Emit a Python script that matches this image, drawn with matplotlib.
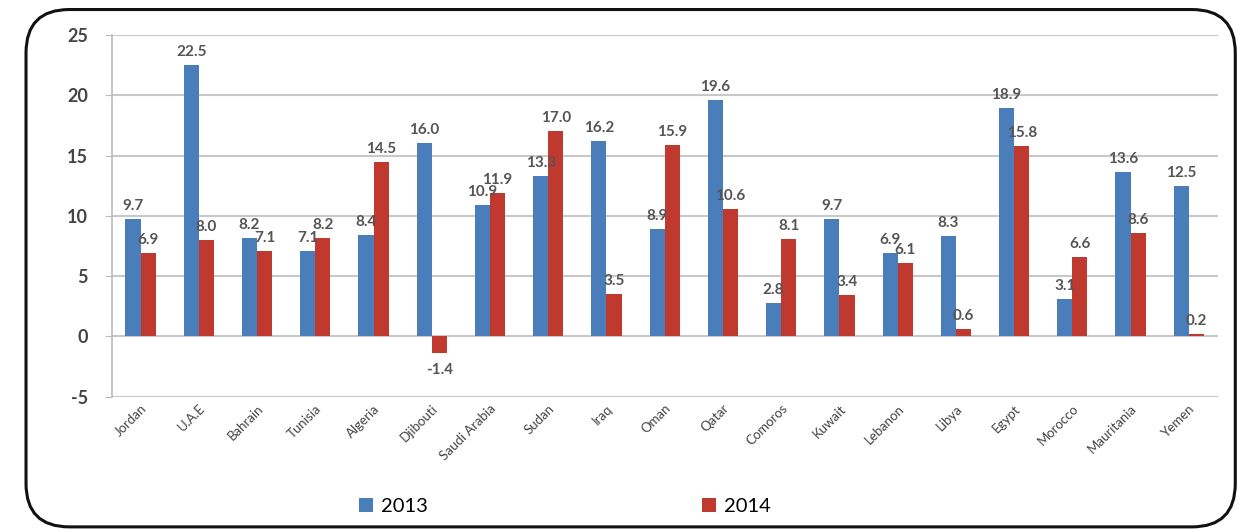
import matplotlib.pyplot as plt
import numpy as np
from matplotlib.patches import FancyBboxPatch

# data
countries = ["Jordan", "U.A.E", "Bahrain", "Tunisia", "Algeria", "Djibouti",
             "Saudi Arabia", "Sudan", "Iraq", "Oman", "Qatar", "Comoros",
             "Kuwait", "Lebanon", "Libya", "Egypt", "Morocco", "Mauritania", "Yemen"]
vals_2013 = [9.7, 22.5, 8.2, 7.1, 8.4, 16.0, 10.9, 13.3, 16.2, 8.9, 19.6, 2.8,
             9.7, 6.9, 8.3, 18.9, 3.1, 13.6, 12.5]
vals_2014 = [6.9, 8.0, 7.1, 8.2, 14.5, -1.4, 11.9, 17.0, 3.5, 15.9, 10.6, 8.1,
             3.4, 6.1, 0.6, 15.8, 6.6, 8.6, 0.2]
y_ticks = [-5, 0, 5, 10, 15, 20, 25]

plt.rcParams['font.family'] = ['Lato', 'DejaVu Sans']

fig = plt.figure(figsize=(12.39, 5.29), dpi=100)

#rounded frame around everything
frame = FancyBboxPatch((0.021, 0.004), 0.976, 0.978,
                       boxstyle="round,pad=0,rounding_size=0.035",
                       transform=fig.transFigure, fill=False,
                       edgecolor="#111111", linewidth=2.2,
                       mutation_aspect=1239/529)
fig.patches.append(frame)

ax = fig.add_axes([0.090, 0.250, 0.893, 0.684])

x = np.arange(len(countries))
w = 0.26
b1 = ax.bar(x - w / 2, vals_2013, w, color="#4A7EBB", label="2013", zorder=3)
b2 = ax.bar(x + w / 2, vals_2014, w, color="#C0392F", label="2014", zorder=3)

for xi, v in zip(x, vals_2013):
    ax.text(xi - w / 2, v + 0.5, f"{v:.1f}", ha="center", va="bottom",
            fontsize=11, fontweight="bold", color="#555555", zorder=4)
for xi, v in zip(x, vals_2014):
    if v < 0:
        ax.text(xi + w / 2, v - 0.8, f"{v:.1f}", ha="center", va="top",
                fontsize=11, fontweight="bold", color="#555555", zorder=4)
    else:
        ax.text(xi + w / 2, v + 0.5, f"{v:.1f}", ha="center", va="bottom",
                fontsize=11, fontweight="bold", color="#555555", zorder=4)

ax.set_xlim(-0.5, len(countries) - 0.5)
ax.set_ylim(-5, 25)
ax.set_yticks(y_ticks)
ax.set_yticklabels([str(t) for t in y_ticks], fontsize=13, fontweight="bold",
                   color="#444444")
ax.set_xticks(x)
ax.set_xticklabels(countries, rotation=45, ha="right", rotation_mode="anchor",
                   fontsize=9.5, color="#444444")
ax.tick_params(axis="x", length=0, pad=4)
ax.tick_params(axis="y", length=5, color="#BBBBBB", pad=12)

ax.grid(axis="y", color="#C8C8C8", linewidth=1.5, zorder=0)
for s in ["top", "right", "bottom"]:
    ax.spines[s].set_visible(False)
ax.spines["left"].set_color("#BBBBBB")
ax.spines["left"].set_linewidth(1.2)

fig.legend(handles=[b1, b2], labels=["2013", "2014"], loc="center",
           bbox_to_anchor=(0.456, 0.042), ncol=2, frameon=False,
           fontsize=14.5, handlelength=0.7, handleheight=0.7,
           columnspacing=13.6, handletextpad=0.4)

fig.savefig("out.png", dpi=100)
